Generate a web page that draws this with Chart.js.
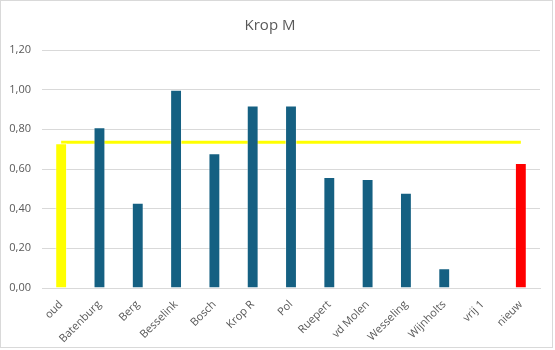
<!DOCTYPE html>
<html>
<head>
<meta charset="utf-8">
<script src="https://cdn.jsdelivr.net/npm/chart.js@4"></script>
<style>
  body { margin: 0; background: #fff; }
  #wrap { position: relative; width: 555px; height: 350px; }
  #frame {
    position: absolute; left: 0; top: 0; width: 551px; height: 346px;
    border: 1px solid #d9d9d9; pointer-events: none;
  }
</style>
</head>
<body>
<div id="wrap">
  <canvas id="KropChart" width="555" height="350"></canvas>
  <div id="frame"></div>
</div>
<script>
const CATEGORIES = [
  "oud", "Batenburg", "Berg", "Besselink", "Bosch", "Krop R", "Pol",
  "Ruepert", "vd Molen", "Wesseling", "Wijnholts", "vrij 1", "nieuw",
];
const SCORES = [0.73, 0.81, 0.43, 1.0, 0.68, 0.92, 0.92, 0.56, 0.55, 0.48, 0.1, 0, 0.63];
const REFERENCE = [
  0.735, 0.735, 0.735, 0.735, 0.735, 0.735, 0.735,
  0.735, 0.735, 0.735, 0.735, 0.735, 0.735,
];
const Y_TICKS = [0, 0.2, 0.4, 0.6, 0.8, 1.0, 1.2];

const BLUE = "#156082";
const TEXT = "#595959";
const FONT = "'Open Sans', sans-serif";

/**
 * @param {number} i category index
 * @returns {string} bar colour: first is old, last is new
 */
function barColor(i) {
  if (i === 0) return "#ffff00";
  if (i === CATEGORIES.length - 1) return "#ff0000";
  return BLUE;
}

function formatTick(v) {
  return v.toFixed(2).replace(".", ",");
}

document.addEventListener("DOMContentLoaded", () => {
  const ctx = document.getElementById("KropChart").getContext("2d");
  new Chart(ctx, {
    data: {
      labels: CATEGORIES,
      datasets: [
        {
          type: "bar",
          label: "Krop M",
          data: SCORES,
          backgroundColor: SCORES.map((_, i) => barColor(i)),
          borderColor: "rgba(255,255,255,0.45)",
          borderWidth: 1,
          categoryPercentage: 1,
          barPercentage: 0.31,
          order: 0,
        },
        {
          type: "line",
          label: "oud",
          data: REFERENCE,
          borderColor: "#ffff00",
          borderWidth: 3,
          pointRadius: 0,
          fill: false,
          order: 1,
        },
      ],
    },
    options: {
      responsive: false,
      animation: false,
      layout: { padding: { left: 0, right: 15, top: 0, bottom: 0 } },
      plugins: {
        legend: { display: false },
        tooltip: { enabled: false },
        title: {
          display: true,
          text: "Krop M",
          color: TEXT,
          font: { family: FONT, size: 15, weight: "normal" },
          padding: { top: 17, bottom: 15 },
        },
      },
      scales: {
        x: {
          grid: { display: false },
          border: { color: "#d9d9d9" },
          ticks: {
            color: TEXT,
            font: { family: FONT, size: 11 },
            minRotation: 45,
            maxRotation: 45,
            autoSkip: false,
            padding: 2,
          },
          afterFit: (scale) => { scale.height = 62; },
        },
        y: {
          min: 0,
          max: 1.2,
          afterBuildTicks: (scale) => {
            scale.ticks = Y_TICKS.map((v) => ({ value: v }));
          },
          grid: { color: "#d9d9d9", drawTicks: false },
          border: { display: false },
          ticks: {
            color: TEXT,
            font: { family: FONT, size: 11 },
            padding: 11,
            callback: formatTick,
          },
          afterFit: (scale) => { scale.width = 42; },
        },
      },
    },
  });
});
</script>
</body>
</html>
